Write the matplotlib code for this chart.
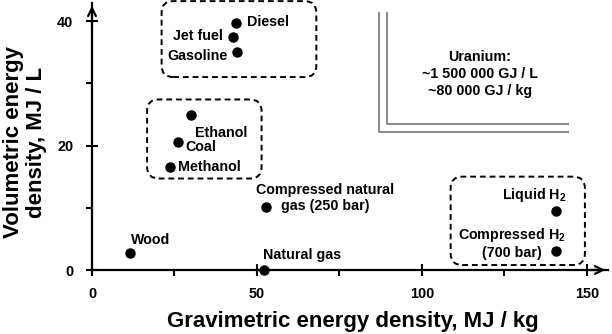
import numpy as np
import matplotlib.pyplot as plt
from matplotlib.patches import FancyBboxPatch

plt.rcParams['font.family'] = ['Liberation Sans', 'DejaVu Sans']
plt.rcParams['font.weight'] = 'bold'
plt.rcParams['mathtext.fontset'] = 'custom'
plt.rcParams['mathtext.rm'] = 'Liberation Sans:bold'
plt.rcParams['mathtext.bf'] = 'Liberation Sans:bold'
plt.rcParams['mathtext.it'] = 'Liberation Sans:bold'

# fuel data: gravimetric (MJ/kg), volumetric (MJ/L)
fuels = ['Diesel', 'Jet fuel', 'Gasoline', 'Ethanol', 'Coal', 'Methanol',
         'Compressed natural\ngas (250 bar)', 'Wood', 'Natural gas',
         'Liquid H$_2$', 'Compressed H$_2$\n(700 bar)']
grav = [43.5, 42.7, 44.1, 30.0, 26.2, 23.7, 52.6, 11.6, 52.2, 140.7, 140.7]
vol = [39.7, 37.4, 35.0, 24.9, 20.5, 16.5, 10.1, 2.7, 0.04, 9.4, 3.0]

xticks = [0, 50, 100, 150]
yticks = [0, 20, 40]

# label offsets in points and alignment
offsets = [(8.3, 0.7, 'left'), (-7, 1, 'right'), (-6.8, -2.7, 'right'),
           (2.9, -12.7, 'left'), (5.3, -3.6, 'left'), (5.3, 0.4, 'left'),
           (42.7, 6.3, 'center'), (0.3, 9.6, 'left'), (-0.7, 10.3, 'left'),
           (7.5, 12.2, 'right'), (-31.9, 5.8, 'center')]

fig = plt.figure(figsize=(6.12, 3.34), dpi=100)
ax = fig.add_axes([92 / 612, 64 / 334, 516 / 612, 267 / 334])
ax.set_xlim(0, 156.4)
ax.set_ylim(0, 42.9)

for s in ['top', 'right']:
    ax.spines[s].set_visible(False)
for s in ['left', 'bottom']:
    ax.spines[s].set_linewidth(1.6)

ax.set_xticks(xticks)
ax.set_yticks(yticks)
ax.set_xticks([25, 75, 125], minor=True)
ax.set_yticks([10, 30], minor=True)
ax.tick_params(which='major', direction='inout', length=9, width=1.5,
               labelsize=10.4)
ax.tick_params(which='minor', direction='out', length=4.3, width=1.5)
ax.tick_params(axis='x', which='major', pad=8)
ax.tick_params(axis='y', which='major', pad=9)

# arrow heads on axes
ax.annotate('', xy=(156.4, 0), xytext=(150, 0),
            arrowprops=dict(arrowstyle='->', lw=1.6, mutation_scale=14),
            annotation_clip=False)
ax.annotate('', xy=(0, 42.9), xytext=(0, 39),
            arrowprops=dict(arrowstyle='->', lw=1.6, mutation_scale=14),
            annotation_clip=False)

ax.plot(grav, vol, 'o', color='black', ms=6.5, clip_on=False)

for name, gx, vy, (dx, dy, ha) in zip(fuels, grav, vol, offsets):
    ax.annotate(name, (gx, vy), xytext=(dx, dy), textcoords='offset points',
                ha=ha, va='center', multialignment=ha, fontsize=10.3,
                fontweight='bold', linespacing=1.2)

# dashed rounded boxes
asp = 3.3 / 6.225
for (x0, y0, x1, y1) in [(21.1, 31.0, 68.0, 43.2), (16.7, 14.7, 51.4, 27.4),
                         (108.7, 0.8, 149.4, 15.0)]:
    box = FancyBboxPatch((x0, y0), x1 - x0, y1 - y0,
                         boxstyle='round,pad=0,rounding_size=3.5',
                         mutation_aspect=asp, fill=False, ec='black',
                         lw=1.4, ls=(0, (3, 2)), clip_on=False)
    ax.add_patch(box)

# uranium off-scale marker
ax.plot([87.0, 87.0, 144.2], [41.3, 22.2, 22.2], color='#8c8c8c', lw=1.5)
ax.plot([89.5, 89.5, 144.2], [41.3, 23.4, 23.4], color='#8c8c8c', lw=1.5)
ax.text(117.6, 31.5, 'Uranium:\n~1 500 000 GJ / L\n~80 000 GJ / kg',
        ha='center', va='center', multialignment='center', fontsize=10.3,
        fontweight='bold', linespacing=1.25)

fig.text(353 / 612, 1 - 327 / 334, 'Gravimetric energy density, MJ / kg',
         ha='center', va='baseline', fontsize=16, fontweight='bold')
fig.text(25 / 612, 1 - 142 / 334, 'Volumetric energy\ndensity, MJ / L',
         ha='center', va='center', rotation=90, fontsize=16,
         fontweight='bold', linespacing=1.15)

fig.savefig('out.png', dpi=100)
